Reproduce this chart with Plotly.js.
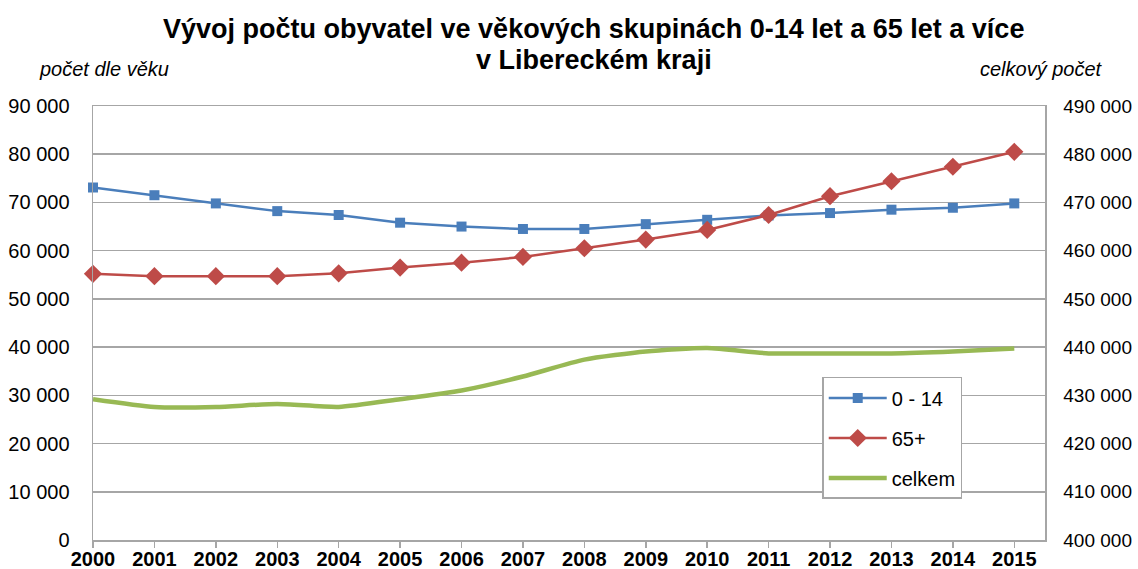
<!DOCTYPE html>
<html>
<head>
<meta charset="utf-8">
<script src="https://cdn.plot.ly/plotly-3.0.1.min.js"></script>
<style>html,body{margin:0;padding:0;background:#fff;}#chart{width:1138px;height:569px;}</style>
</head>
<body>
<div id="chart"></div>
<script>
const years = [2000,2001,2002,2003,2004,2005,2006,2007,2008,2009,2010,2011,2012,2013,2014,2015];
const yearLabels = years.map(String);
const age0_14 = [73100,71500,69800,68200,67400,65800,65000,64500,64500,65500,66400,67300,67800,68500,68900,69800];
const age65plus = [55200,54700,54700,54700,55300,56500,57500,58700,60500,62300,64300,67400,71300,74400,77400,80500];
const total = [429200,427600,427600,428200,427600,429200,431000,433900,437400,439100,439800,438700,438700,438700,439100,439700];
const seriesNames = ['0 - 14','65+','celkem'];
const leftTicks = [0,10000,20000,30000,40000,50000,60000,70000,80000,90000];
const rightTicks = [400000,410000,420000,430000,440000,450000,460000,470000,480000,490000];
const titleLines = ['Vývoj počtu obyvatel ve věkových skupinách 0-14 let a 65 let a více', 'v Libereckém kraji'];

const FONT = 'Liberation Sans, Arial, sans-serif';
const grid = '#a6a6a6';

const traces = [
  {x: years, y: age0_14, name: seriesNames[0], type: 'scatter', mode: 'lines+markers',
   line: {color: '#4a7ebb', width: 2.5}, marker: {symbol: 'square', size: 10, color: '#4a7ebb'},
   cliponaxis: false, legendgroup: 'a'},
  {x: years, y: age65plus, name: seriesNames[1], type: 'scatter', mode: 'lines+markers',
   line: {color: '#be4b48', width: 2.5}, marker: {symbol: 'diamond', size: 14, color: '#be4b48'},
   cliponaxis: false, legendgroup: 'b'},
  {x: years, y: total, name: seriesNames[2], type: 'scatter', mode: 'lines', yaxis: 'y2',
   line: {color: '#98b954', width: 4.5, shape: 'spline', smoothing: 0.6},
   cliponaxis: false, legendgroup: 'c'}
];

const layout = {
  width: 1138, height: 569,
  margin: {l: 93, r: 93, t: 106, b: 29, pad: 0},
  paper_bgcolor: '#fff', plot_bgcolor: '#fff',
  separators: ', ',
  font: {family: FONT, size: 20, color: '#000'},
  xaxis: {
    range: [2000, 2015.5], tickvals: years, ticktext: yearLabels,
    showgrid: false, zeroline: false, showline: true, mirror: true,
    linecolor: grid, linewidth: 1.5,
    ticks: 'outside', ticklen: 6, tickcolor: grid, tickwidth: 1.5,
    ticklabelstandoff: -6,
    tickfont: {family: FONT, size: 20, weight: 'bold', color: '#000'},
    fixedrange: true
  },
  yaxis: {
    range: [0, 90000], tickvals: leftTicks, tickformat: ',d',
    showgrid: true, gridcolor: grid, gridwidth: 1.5, zeroline: false,
    showline: true, linecolor: grid, linewidth: 1.5,
    ticks: '', ticklabelstandoff: 18,
    tickfont: {family: FONT, size: 20, color: '#000'}
  },
  yaxis2: {
    range: [400000, 490000], tickvals: rightTicks, tickformat: ',d',
    overlaying: 'y', side: 'right', showgrid: false, zeroline: false,
    showline: true, linecolor: grid, linewidth: 1.5,
    ticks: '', ticklabelstandoff: 13,
    tickfont: {family: FONT, size: 19, color: '#000'}
  },
  legend: {
    x: 0.766, xanchor: 'left', y: 0.3756, yanchor: 'top',
    bordercolor: grid, borderwidth: 1.5, bgcolor: '#fff',
    traceorder: 'grouped', tracegroupgap: 11, itemwidth: 58,
    font: {family: FONT, size: 20, color: '#000'}
  },
  annotations: [
    {text: titleLines[0], xref: 'paper', yref: 'paper', x: 0.526, y: 1.1774,
     xanchor: 'center', yanchor: 'middle', showarrow: false,
     font: {family: FONT, size: 27, weight: 'bold', color: '#000'}},
    {text: titleLines[1], xref: 'paper', yref: 'paper', x: 0.526, y: 1.106,
     xanchor: 'center', yanchor: 'middle', showarrow: false,
     font: {family: FONT, size: 27, weight: 'bold', color: '#000'}},
    {text: 'počet dle věku', xref: 'paper', yref: 'paper', x: -0.0588, y: 1.085,
     xanchor: 'left', yanchor: 'middle', showarrow: false,
     font: {family: FONT, size: 20, style: 'italic', color: '#000'}},
    {text: 'celkový počet', xref: 'paper', yref: 'paper', x: 1.063, y: 1.085,
     xanchor: 'right', yanchor: 'middle', showarrow: false,
     font: {family: FONT, size: 20, style: 'italic', color: '#000'}}
  ],
  showlegend: true
};

Plotly.newPlot('chart', traces, layout, {displayModeBar: false, staticPlot: true});
</script>
</body>
</html>
